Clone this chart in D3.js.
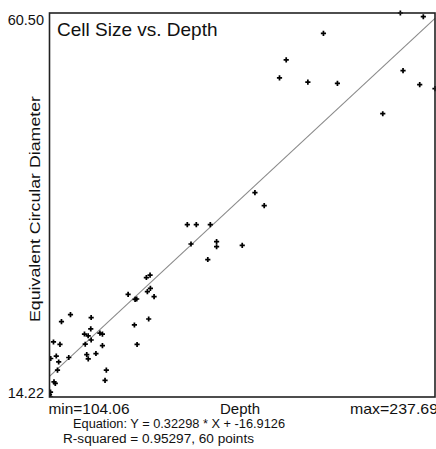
<!DOCTYPE html>
<html>
<head>
<meta charset="utf-8">
<script src="https://cdn.jsdelivr.net/npm/d3@7/dist/d3.min.js"></script>
<style>
  html, body { margin: 0; padding: 0; background: #fff; }
  text { font-family: "Liberation Sans", Arial, Helvetica, sans-serif; fill: #111; }
</style>
</head>
<body>
<svg id="chart" width="436" height="449"></svg>
<script>
// ---- data ----
const title = "Cell Size vs. Depth";
const xLabel = "Depth";
const yLabel = "Equivalent Circular Diameter";
const xDomain = [104.06, 237.69];
const yDomain = [14.22, 60.50];
const slope = 0.32298;
const intercept = -16.9126;
const rSquared = 0.95297;

const depth = [
  225.68, 233.64, 199.02, 186.11, 183.79, 193.62, 203.87, 226.61, 232.39, 237.69,
  219.58, 175.27, 178.49, 151.83, 154.95, 159.80, 153.11, 161.98, 161.98, 170.87,
  158.93, 137.64, 138.92, 131.31, 133.73, 134.28, 137.99, 139.03, 140.31, 138.44,
  133.49, 134.42, 111.33, 108.21, 118.50, 118.36, 116.18, 117.46, 118.50, 121.54,
  122.41, 122.41, 116.45, 105.44, 107.69, 106.41, 104.48, 107.24, 110.74, 116.97,
  117.49, 120.16, 106.83, 105.62, 106.07, 123.76, 123.31, 104.41, 104.41, 104.06
];
const diameter = [
  60.50, 60.05, 58.05, 54.84, 52.67, 52.18, 52.03, 53.55, 51.86, 51.38,
  48.36, 38.84, 37.28, 34.99, 34.99, 34.99, 32.66, 32.94, 32.33, 32.50,
  30.79, 28.62, 28.92, 26.60, 25.99, 26.03, 26.91, 27.32, 26.31, 23.62,
  22.90, 20.55, 24.14, 23.30, 23.80, 22.42, 21.81, 21.60, 21.09, 21.93,
  21.79, 20.40, 20.58, 20.85, 20.57, 19.16, 18.86, 18.44, 18.98, 19.32,
  18.82, 19.46, 17.45, 16.05, 15.85, 17.46, 16.22, 14.82, 14.22, 14.50
];

// ---- layout ----
const plot = { left: 49.5, right: 435, top: 13, bottom: 397 };
const svg = d3.select("#chart");

const x = d3.scaleLinear().domain(xDomain).range([plot.left, plot.right]);
const y = d3.scaleLinear().domain(yDomain).range([plot.bottom, plot.top]);

svg.append("defs").append("clipPath").attr("id", "clip")
  .append("rect")
  .attr("x", plot.left).attr("y", plot.top - 3)
  .attr("width", plot.right - plot.left + 3)
  .attr("height", plot.bottom - plot.top + 3);

// regression line
const lineData = xDomain.map(v => [v, slope * v + intercept]);
svg.append("path")
  .attr("clip-path", "url(#clip)")
  .attr("d", d3.line().x(d => x(d[0])).y(d => y(d[1]))(lineData))
  .attr("fill", "none")
  .attr("stroke", "#8a8a8a")
  .attr("stroke-width", 1.1);

// points
const pts = depth.map((d, i) => [d, diameter[i]]);
svg.append("g").attr("clip-path", "url(#clip)")
  .selectAll("path").data(pts).join("path")
  .attr("transform", d => `translate(${x(d[0])},${y(d[1])})`)
  .attr("d", d3.symbol(d3.symbolCross, 15))
  .attr("fill", "#000");

// frame
svg.append("rect")
  .attr("x", plot.left).attr("y", plot.top)
  .attr("width", plot.right - plot.left)
  .attr("height", plot.bottom - plot.top)
  .attr("fill", "none")
  .attr("stroke", "#222")
  .attr("stroke-width", 1.6);

// title
svg.append("text")
  .attr("x", plot.left + 7.5).attr("y", 36)
  .attr("font-size", 19)
  .text(title);

// y labels (extremes)
svg.append("text")
  .attr("x", 44).attr("y", y(yDomain[1]) + 12)
  .attr("text-anchor", "end").attr("font-size", 14.5)
  .text(d3.format(".2f")(yDomain[1]));
svg.append("text")
  .attr("x", 44).attr("y", y(yDomain[0]) + 1)
  .attr("text-anchor", "end").attr("font-size", 14.5)
  .text(d3.format(".2f")(yDomain[0]));

// x labels
svg.append("text")
  .attr("x", x(xDomain[0]) - 1).attr("y", 414)
  .attr("font-size", 15)
  .attr("textLength", 81).attr("lengthAdjust", "spacingAndGlyphs")
  .text("min=" + d3.format(".2f")(xDomain[0]));
svg.append("text")
  .attr("x", x(xDomain[1]) - 85).attr("y", 414)
  .attr("font-size", 15)
  .attr("textLength", 88).attr("lengthAdjust", "spacingAndGlyphs")
  .text("max=" + d3.format(".2f")(xDomain[1]));
svg.append("text")
  .attr("x", 240).attr("y", 414)
  .attr("text-anchor", "middle").attr("font-size", 15)
  .text(xLabel);

// y axis title
svg.append("text")
  .attr("transform", `translate(40,${(plot.top + plot.bottom) / 2 + 4}) rotate(-90)`)
  .attr("text-anchor", "middle").attr("font-size", 15.5)
  .attr("textLength", 226).attr("lengthAdjust", "spacingAndGlyphs")
  .text(yLabel);

// equation
svg.append("text")
  .attr("x", 73).attr("y", 427.5)
  .attr("font-size", 12)
  .attr("textLength", 212).attr("lengthAdjust", "spacingAndGlyphs")
  .text(`Equation: Y = ${slope} * X + ${intercept}`);
svg.append("text")
  .attr("x", 63).attr("y", 443)
  .attr("font-size", 12)
  .attr("textLength", 191).attr("lengthAdjust", "spacingAndGlyphs")
  .text(`R-squared = ${rSquared}, ${depth.length} points`);
</script>
</body>
</html>
